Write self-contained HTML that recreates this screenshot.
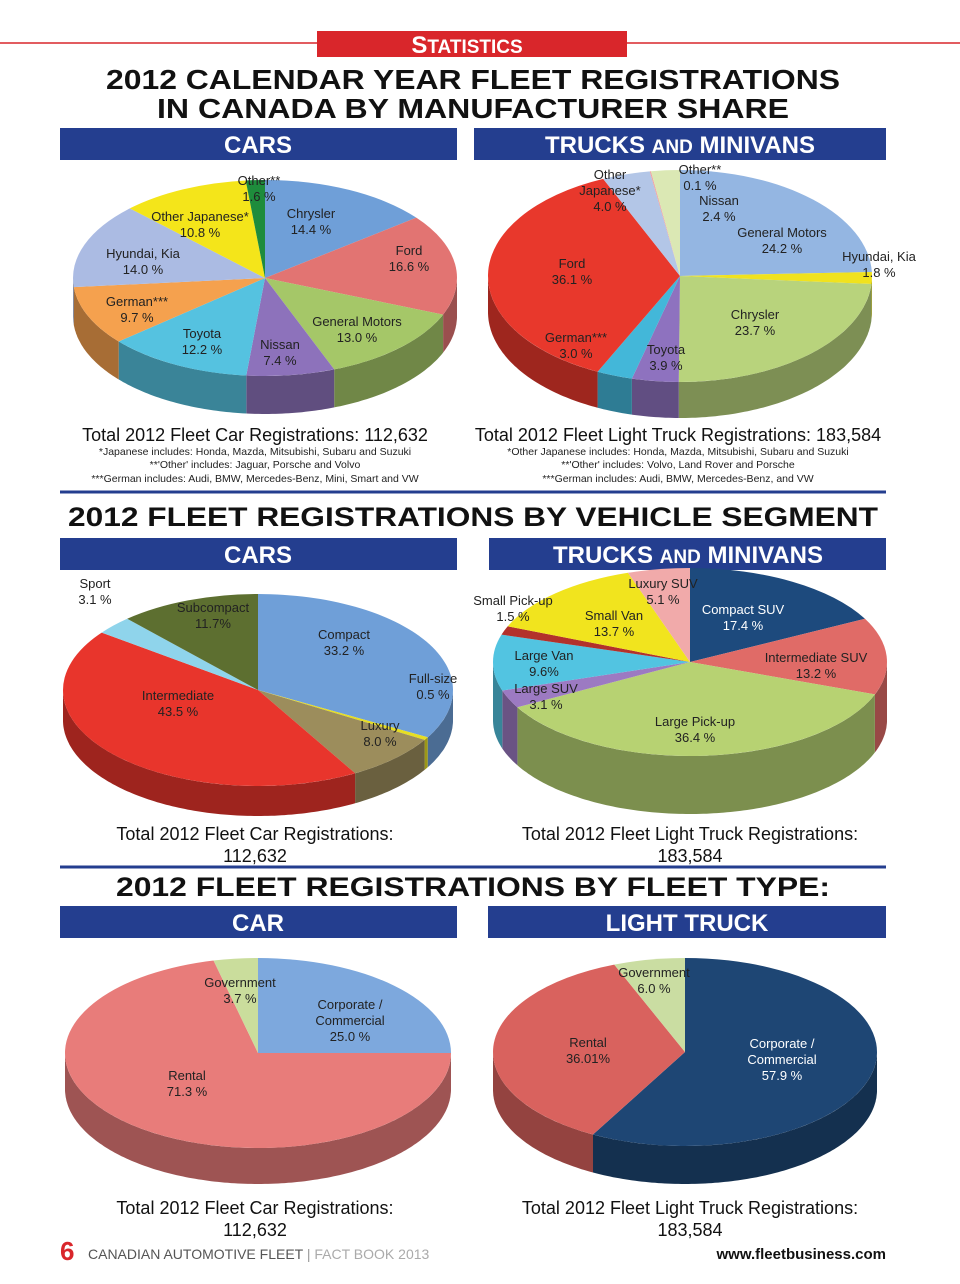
<!DOCTYPE html>
<html><head><meta charset="utf-8"><style>
html,body{margin:0;padding:0;background:#fff;}
svg{display:block;font-family:"Liberation Sans",Arial,sans-serif;}
.hd{font-weight:bold;fill:#111;}
.bar{fill:#243e8f;}
.bt{font-weight:bold;fill:#fff;font-size:24px;}
.lb{font-size:13px;fill:#222;text-anchor:middle;}
.tot{font-size:18px;fill:#111;text-anchor:middle;}
.fn{font-size:10.5px;fill:#222;text-anchor:middle;}
</style></head><body>
<svg id="page" width="960" height="1284" viewBox="0 0 960 1284" xmlns="http://www.w3.org/2000/svg">
<line x1="0" y1="43" x2="960" y2="43" stroke="#d9262b" stroke-width="1.5"/>
<rect x="317" y="31" width="310" height="26" fill="#d9262b"/>
<text x="467" y="53" text-anchor="middle" font-size="24" font-weight="bold" fill="#fff">S<tspan font-size="19">TATISTICS</tspan></text>
<text class="hd" x="473" y="89" text-anchor="middle" font-size="28" textLength="734" lengthAdjust="spacingAndGlyphs">2012 CALENDAR YEAR FLEET REGISTRATIONS</text>
<text class="hd" x="473" y="118" text-anchor="middle" font-size="28" textLength="632" lengthAdjust="spacingAndGlyphs">IN CANADA BY MANUFACTURER SHARE</text>

<rect class="bar" x="60" y="128" width="397" height="32"/>
<text class="bt" x="258" y="153" text-anchor="middle">CARS</text>
<rect class="bar" x="474" y="128" width="412" height="32"/>
<text class="bt" x="680" y="153" text-anchor="middle">TRUCKS <tspan font-size="19">AND</tspan> MINIVANS</text>

<g id="p1"></g><g id="p2"></g>
<text class="tot" x="255" y="441">Total 2012 Fleet Car Registrations: 112,632</text>
<text class="fn" x="255" y="455">*Japanese includes: Honda, Mazda, Mitsubishi, Subaru and Suzuki</text>
<text class="fn" x="255" y="468">**'Other' includes: Jaguar, Porsche and Volvo</text>
<text class="fn" x="255" y="482">***German includes: Audi, BMW, Mercedes-Benz, Mini, Smart and VW</text>
<text class="tot" x="678" y="441">Total 2012 Fleet Light Truck Registrations: 183,584</text>
<text class="fn" x="678" y="455">*Other Japanese includes: Honda, Mazda, Mitsubishi, Subaru and Suzuki</text>
<text class="fn" x="678" y="468">**'Other' includes: Volvo, Land Rover and Porsche</text>
<text class="fn" x="678" y="482">***German includes: Audi, BMW, Mercedes-Benz, and VW</text>

<line x1="60" y1="492" x2="886" y2="492" stroke="#243e8f" stroke-width="3"/>
<text class="hd" x="473" y="526" text-anchor="middle" font-size="27" textLength="810" lengthAdjust="spacingAndGlyphs">2012 FLEET REGISTRATIONS BY VEHICLE SEGMENT</text>
<rect class="bar" x="60" y="538" width="397" height="32"/>
<text class="bt" x="258" y="563" text-anchor="middle">CARS</text>
<rect class="bar" x="489" y="538" width="397" height="32"/>
<text class="bt" x="688" y="563" text-anchor="middle">TRUCKS <tspan font-size="19">AND</tspan> MINIVANS</text>
<g id="p3"></g><g id="p4"></g>
<text class="tot" x="255" y="840">Total 2012 Fleet Car Registrations:</text>
<text class="tot" x="255" y="862">112,632</text>
<text class="tot" x="690" y="840">Total 2012 Fleet Light Truck Registrations:</text>
<text class="tot" x="690" y="862">183,584</text>

<line x1="60" y1="867" x2="886" y2="867" stroke="#243e8f" stroke-width="3"/>
<text class="hd" x="473" y="896" text-anchor="middle" font-size="27" textLength="714" lengthAdjust="spacingAndGlyphs">2012 FLEET REGISTRATIONS BY FLEET TYPE:</text>
<rect class="bar" x="60" y="906" width="397" height="32"/>
<text class="bt" x="258" y="931" text-anchor="middle">CAR</text>
<rect class="bar" x="488" y="906" width="398" height="32"/>
<text class="bt" x="687" y="931" text-anchor="middle">LIGHT TRUCK</text>
<g id="p5"></g><g id="p6"></g>
<text class="tot" x="255" y="1214">Total 2012 Fleet Car Registrations:</text>
<text class="tot" x="255" y="1236">112,632</text>
<text class="tot" x="690" y="1214">Total 2012 Fleet Light Truck Registrations:</text>
<text class="tot" x="690" y="1236">183,584</text>

<text x="60" y="1260" font-size="26" font-weight="bold" fill="#d9262b">6</text>
<text x="88" y="1259" font-size="14" fill="#555">CANADIAN AUTOMOTIVE FLEET <tspan fill="#999">|</tspan> <tspan fill="#aaa">FACT BOOK 2013</tspan></text>
<text x="886" y="1259" font-size="15" font-weight="bold" fill="#111" text-anchor="end">www.fleetbusiness.com</text>
</svg>
<script>
const NS="http://www.w3.org/2000/svg";
// Pie 1: cars by manufacturer (clockwise from 12 o'clock)
const p1Cats=["Chrysler","Ford","General Motors","Nissan","Toyota","German***","Hyundai, Kia","Other Japanese*","Other**"];
const p1Vals=[14.4,16.6,13.0,7.4,12.2,9.7,14.0,10.8,1.6];
const p1Cols=["#6f9fd8","#e27472","#a5c768","#8d72bb","#55c2e0","#f5a14e","#abbbe3","#f4e51a","#1e8c3c"];
// Pie 2: trucks by manufacturer
const p2Cats=["General Motors","Hyundai, Kia","Chrysler","Toyota","German***","Ford","Other Japanese*","Other**","Nissan"];
const p2Vals=[24.2,1.8,23.7,3.9,3.0,36.1,4.0,0.1,2.4];
const p2Cols=["#94b6e2","#f0e21e","#b8d37c","#8e72bf","#43b7d9","#e8382c","#b3c6e7","#f0a3a3","#dbe8b4"];
// Pie 3: cars by segment
const p3Cats=["Compact","Full-size","Luxury","Intermediate","Sport","Subcompact"];
const p3Vals=[33.2,0.5,8.0,43.5,3.1,11.7];
const p3Cols=["#6f9fd8","#e6de22","#9c8d5c","#e8352c","#8fd4eb","#5d6f30"];
// Pie 4: trucks by segment
const p4Cats=["Compact SUV","Intermediate SUV","Large Pick-up","Large SUV","Large Van","Small Pick-up","Small Van","Luxury SUV"];
const p4Vals=[17.4,13.2,36.4,3.1,9.6,1.5,13.7,5.1];
const p4Cols=["#1d4a7d","#e06b67","#b7d272","#9c7ac2","#52c4e1","#b3312b","#f1e41e","#f1aaaa"];
// Pie 5: car fleet type
const p5Cats=["Corporate / Commercial","Rental","Government"];
const p5Vals=[25.0,71.3,3.7];
const p5Cols=["#7da8dd","#e87c7a","#cadd9c"];
// Pie 6: truck fleet type
const p6Cats=["Corporate / Commercial","Rental","Government"];
const p6Vals=[57.9,36.01,6.0];
const p6Cols=["#1e4674","#d9625e","#cadda2"];

function shade(hex,f){const n=parseInt(hex.slice(1),16);let r=n>>16,g=(n>>8)&255,b=n&255;
return `rgb(${Math.round(r*f)},${Math.round(g*f)},${Math.round(b*f)})`;}
function pt(cx,cy,rx,ry,deg,dy){const a=deg*Math.PI/180;return [cx+rx*Math.sin(a),cy-ry*Math.cos(a)+(dy||0)];}
function drawPie(id,cats,vals,cols,cx,cy,rx,ry,d){
  const g=document.getElementById(id);
  const tot=vals.reduce((s,v)=>s+v,0);
  let acc=0;const sl=[];
  vals.forEach((v,i)=>{const a1=acc/tot*360;acc+=v;sl.push([a1,acc/tot*360,i]);});
  sl.forEach(([a1,a2,i])=>{
    const s=Math.max(a1,90),e=Math.min(a2,270);
    if(e<=s)return;
    let dd="";const top=[];
    for(let a=s;a<e;a+=1){top.push(pt(cx,cy,rx,ry,a,0));}
    top.push(pt(cx,cy,rx,ry,e,0));
    top.forEach((p,k)=>dd+=(k?"L":"M")+p[0].toFixed(1)+","+p[1].toFixed(1));
    for(let k=top.length-1;k>=0;k--)dd+="L"+top[k][0].toFixed(1)+","+(top[k][1]+d).toFixed(1);
    dd+="Z";
    const p=document.createElementNS(NS,"path");
    p.setAttribute("d",dd);p.setAttribute("fill",shade(cols[i],0.68));
    
    
    g.appendChild(p);
  });
  sl.forEach(([a1,a2,i])=>{
    const p1=pt(cx,cy,rx,ry,a1),p2=pt(cx,cy,rx,ry,a2);
    const large=(a2-a1)>180?1:0;
    const p=document.createElementNS(NS,"path");
    p.setAttribute("d",`M${cx},${cy}L${p1[0]},${p1[1]}A${rx},${ry} 0 ${large} 1 ${p2[0]},${p2[1]}Z`);
    p.setAttribute("fill",cols[i]);
    
    
    g.appendChild(p);
  });
}
drawPie("p1",p1Cats,p1Vals,p1Cols,265,278,192,98,38);
drawPie("p2",p2Cats,p2Vals,p2Cols,680,276,192,106,36);
drawPie("p3",p3Cats,p3Vals,p3Cols,258,690,195,96,30);
drawPie("p4",p4Cats,p4Vals,p4Cols,690,662,197,94,58);
drawPie("p5",p5Cats,p5Vals,p5Cols,258,1053,193,95,36);
drawPie("p6",p6Cats,p6Vals,p6Cols,685,1052,192,94,38);

const labels=[
["p1",259,185,"Other**","1.6 %"],["p1",311,218,"Chrysler","14.4 %"],["p1",200,221,"Other Japanese*","10.8 %"],
["p1",409,255,"Ford","16.6 %"],["p1",143,258,"Hyundai, Kia","14.0 %"],["p1",137,306,"German***","9.7 %"],
["p1",357,326,"General Motors","13.0 %"],["p1",202,338,"Toyota","12.2 %"],["p1",280,349,"Nissan","7.4 %"],
["p2",610,179,"Other","Japanese*","4.0 %"],["p2",700,174,"Other**","0.1 %"],["p2",719,205,"Nissan","2.4 %"],
["p2",782,237,"General Motors","24.2 %"],["p2",879,261,"Hyundai, Kia","1.8 %"],["p2",572,268,"Ford","36.1 %"],
["p2",755,319,"Chrysler","23.7 %"],["p2",576,342,"German***","3.0 %"],["p2",666,354,"Toyota","3.9 %"],
["p3",95,588,"Sport","3.1 %"],["p3",213,612,"Subcompact","11.7%"],["p3",344,639,"Compact","33.2 %"],
["p3",433,683,"Full-size","0.5 %"],["p3",178,700,"Intermediate","43.5 %"],["p3",380,730,"Luxury","8.0 %"],
["p4",663,588,"Luxury SUV","5.1 %"],["p4",513,605,"Small Pick-up","1.5 %"],["p4",614,620,"Small Van","13.7 %"],
["p4",743,614,"Compact SUV","17.4 %"],["p4",816,662,"Intermediate SUV","13.2 %"],["p4",544,660,"Large Van","9.6%"],
["p4",546,693,"Large SUV","3.1 %"],["p4",695,726,"Large Pick-up","36.4 %"],
["p5",240,987,"Government","3.7 %"],["p5",350,1009,"Corporate /","Commercial","25.0 %"],["p5",187,1080,"Rental","71.3 %"],
["p6",654,977,"Government","6.0 %"],["p6",588,1047,"Rental","36.01%"],["p6",782,1048,"Corporate /","Commercial","57.9 %"]
];
const svg=document.getElementById("page");
labels.forEach(l=>{
  const t=document.createElementNS(NS,"text");
  t.setAttribute("class","lb");t.setAttribute("x",l[1]);t.setAttribute("y",l[2]);
  if(l[0]==="p6"&&l[3]==="Corporate /")t.style.fill="#fff";
  if(l[0]==="p4"&&l[3]==="Compact SUV")t.style.fill="#fff";
  l.slice(3).forEach((s,k)=>{const sp=document.createElementNS(NS,"tspan");sp.setAttribute("x",l[1]);if(k)sp.setAttribute("dy","16");sp.textContent=s;t.appendChild(sp);});
  
  
  svg.appendChild(t);
});
</script>
</body></html>
